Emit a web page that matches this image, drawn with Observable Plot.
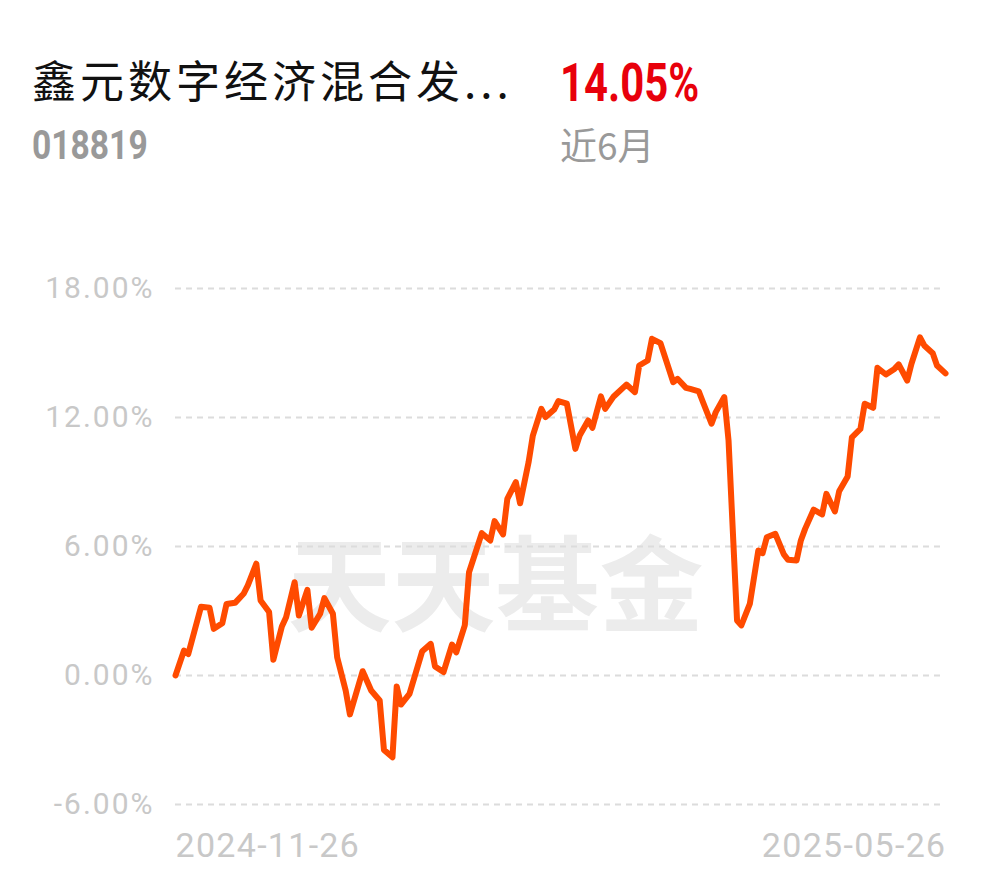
<!DOCTYPE html>
<html><head><meta charset="utf-8">
<script src="https://cdn.jsdelivr.net/npm/d3@7"></script>
<script src="https://cdn.jsdelivr.net/npm/@observablehq/plot@0.6"></script>
<style>
body{margin:0;background:#fff;width:990px;height:878px;position:relative;overflow:hidden;font-family:"Noto Sans CJK SC",Roboto,sans-serif}
.abs{position:absolute;line-height:1;white-space:nowrap}
#title{left:32px;top:57px;font-size:44px;color:#111;letter-spacing:4px}
#ret{left:560px;top:56px;font-family:Roboto,sans-serif;font-weight:bold;font-size:54px;color:#e8000b;transform-origin:0 0;transform:scaleX(0.775)}
#code{left:32px;top:126px;font-family:Roboto,sans-serif;font-weight:bold;font-size:40px;color:#999;transform-origin:0 0;transform:scaleX(0.84)}
#period{left:560px;top:126px;font-size:37px;color:#999}
#chart{position:absolute;left:0;top:250px}
#chart g[aria-label="y-axis tick label"] text{letter-spacing:2px}
#chart g[aria-label="x-axis tick label"] text{letter-spacing:1.3px}
</style></head><body>
<div id="title" class="abs"></div>
<div id="ret" class="abs"></div>
<div id="code" class="abs"></div>
<div id="period" class="abs"></div>
<div id="chart"></div>
<script>
const fundName = "鑫元数字经济混合发...";
const fundCode = "018819";
const returnLabel = "14.05%";
const periodLabel = "近6月";
const watermark = "天天基金";
const yTicks = [-6, 0, 6, 12, 18];
const dates = ["2024-11-26","2024-11-28","2024-11-29","2024-12-02","2024-12-04","2024-12-05","2024-12-07","2024-12-08","2024-12-10","2024-12-12",
"2024-12-13","2024-12-15","2024-12-16","2024-12-18","2024-12-19","2024-12-21","2024-12-22","2024-12-24","2024-12-25","2024-12-27",
"2024-12-28","2024-12-30","2024-12-31","2025-01-02","2025-01-03","2025-01-05","2025-01-06","2025-01-09","2025-01-11","2025-01-13",
"2025-01-14","2025-01-16","2025-01-17","2025-01-18","2025-01-20","2025-01-23","2025-01-25","2025-01-26","2025-01-28","2025-01-30",
"2025-01-31","2025-02-02","2025-02-03","2025-02-06","2025-02-08","2025-02-09","2025-02-11","2025-02-12","2025-02-14","2025-02-15",
"2025-02-17","2025-02-18","2025-02-20","2025-02-21","2025-02-23","2025-02-24","2025-02-26","2025-02-28","2025-03-01","2025-03-03",
"2025-03-04","2025-03-06","2025-03-07","2025-03-09","2025-03-12","2025-03-14","2025-03-15","2025-03-17","2025-03-18","2025-03-20",
"2025-03-23","2025-03-24","2025-03-26","2025-03-27","2025-03-29","2025-03-30","2025-04-01","2025-04-02","2025-04-04","2025-04-05",
"2025-04-07","2025-04-08","2025-04-10","2025-04-12","2025-04-13","2025-04-14","2025-04-16","2025-04-18","2025-04-19","2025-04-21",
"2025-04-22","2025-04-23","2025-04-25","2025-04-27","2025-04-28","2025-04-30","2025-05-01","2025-05-03","2025-05-04","2025-05-06",
"2025-05-07","2025-05-09","2025-05-10","2025-05-12","2025-05-14","2025-05-15","2025-05-17","2025-05-18","2025-05-20","2025-05-21",
"2025-05-23","2025-05-24","2025-05-26"];
const values = [0,1.16,1.0,3.2,3.15,2.17,2.43,3.33,3.38,3.8,
4.19,5.2,3.49,2.95,0.73,2.28,2.71,4.34,2.79,3.98,
2.22,2.87,3.6,2.87,0.85,-0.7,-1.81,0.2,-0.7,-1.16,
-3.46,-3.8,-0.51,-1.35,-0.85,1.13,1.47,0.42,0.16,1.44,
1.08,2.33,4.8,6.62,6.28,7.18,6.56,8.22,8.99,8.01,
9.92,11.16,12.4,12.02,12.37,12.76,12.64,10.54,11.16,11.86,
11.52,12.98,12.4,12.98,13.53,13.18,14.42,14.65,15.66,15.46,
13.64,13.8,13.38,13.33,13.22,12.71,11.71,12.25,12.95,10.93,
2.56,2.33,3.33,5.81,5.69,6.43,6.59,5.63,5.38,5.35,
6.28,6.82,7.71,7.49,8.45,7.63,8.57,9.26,11.08,11.47,
12.64,12.45,14.31,14.0,14.26,14.47,13.72,14.5,15.73,15.35,
14.99,14.42,14.05];

document.getElementById("title").textContent = fundName;
document.getElementById("ret").textContent = returnLabel;
document.getElementById("code").textContent = fundCode;
document.getElementById("period").textContent = periodLabel;

const parse = d3.utcParse("%Y-%m-%d");
const fmt = d3.utcFormat("%Y-%m-%d");
const data = dates.map((d, i) => ({date: parse(d), value: values[i]}));
const first = parse(dates[0]), last = parse(dates[dates.length - 1]);

const chart = Plot.plot({
  width: 990, height: 628,
  marginLeft: 175, marginRight: 45, marginTop: 38, marginBottom: 74,
  style: {fontFamily: "Roboto, sans-serif", background: "transparent", overflow: "visible"},
  x: {type: "utc", domain: [first, last]},
  y: {domain: [-6, 18]},
  marks: [
    Plot.text([watermark], {frameAnchor: "middle", text: d => d, fontSize: 104, fontWeight: "bold",
      fill: "#ececec", dx: -65, dy: 44, fontFamily: "Noto Sans CJK SC"}),
    Plot.gridY(yTicks, {stroke: "#dcdcdc", strokeOpacity: 1, strokeWidth: 2, strokeDasharray: "6,5"}),
    Plot.axisY(yTicks, {tickSize: 0, tickPadding: 21, tickFormat: d => d.toFixed(2) + "%",
      fontSize: 30, color: "#c8c8c8", label: null}),
    Plot.axisX([first], {tickSize: 0, tickPadding: 28, textAnchor: "start", tickFormat: fmt,
      fontSize: 34, color: "#c8c8c8", label: null}),
    Plot.axisX([last], {tickSize: 0, tickPadding: 28, textAnchor: "end", tickFormat: fmt,
      fontSize: 34, color: "#c8c8c8", label: null, dx: 1}),
    Plot.line(data, {x: "date", y: "value", stroke: "#ff4b00", strokeWidth: 6,
      strokeLinejoin: "round", strokeLinecap: "round"})
  ]
});
document.getElementById("chart").appendChild(chart);
</script>
</body></html>
